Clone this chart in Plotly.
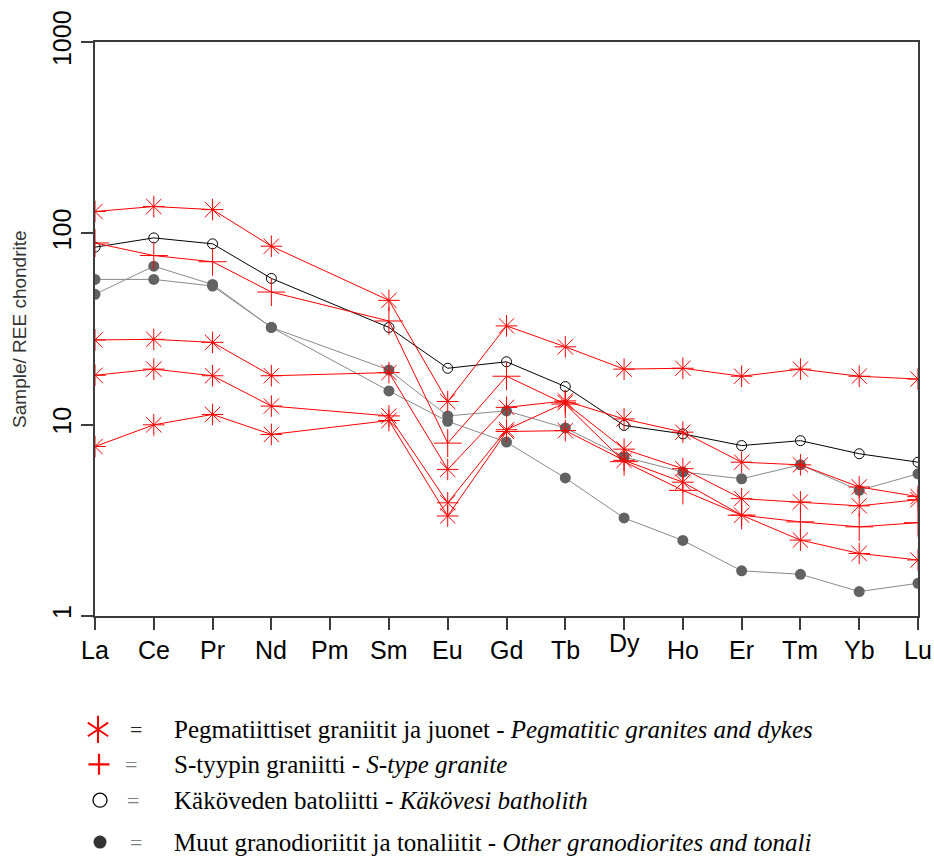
import plotly.graph_objects as go

# Chondrite-normalised REE patterns
elements = ["La", "Ce", "Pr", "Nd", "Pm", "Sm", "Eu", "Gd", "Tb", "Dy", "Ho", "Er", "Tm", "Yb", "Lu"]

# Pegmatitic granites and dykes (asterisks)
peg_1 = [130, 138, 133, 85.6, None, 44.6, 13.2, 32.8, 25.5, 19.5, 19.7, 17.9, 19.5, 17.9, 17.3]
peg_2 = [27.7, 27.9, 26.9, 18.0, None, 18.7, 5.83, 12.3, 13.3, 10.7, 9.13, 6.36, 6.16, 4.72, 4.2]
peg_3 = [18.1, 19.5, 18.0, 12.5, None, 11.1, 3.9, 9.4, 13.0, 7.44, 5.88, 4.1, 3.94, 3.76, 4.05]
peg_4 = [7.68, 9.97, 11.3, 8.88, None, 10.5, 3.33, 9.2, 9.3, 6.5, 5.0, 3.36, 2.49, 2.12, 1.96]

# S-type granite (plus signs)
s_type = [89, 76.5, 71, 49.3, None, 34.8, 8.0, 17.9, 12.8, 6.4, 4.53, 3.36, 3.1, 2.92, 3.07]

# Käkövesi batholith (open circles)
kakovesi = [84.6, 94.6, 88.1, 58.1, None, 32.2, 19.7, 21.3, 15.8, 9.9, 8.94, 7.77, 8.24, 7.04, 6.36]

# Other granodiorites and tonalites (filled circles)
grano_1 = [57.4, 57.4, 53, 32.2, None, 19.3, 11.1, 11.8, 9.6, 6.77, 5.65, 5.21, 6.16, 4.53, 5.53]
grano_2 = [48, 67.3, 54, 32.2, None, 15.0, 10.4, 8.1, 5.26, 3.25, 2.48, 1.72, 1.65, 1.34, 1.48]

y_ticks = [1, 10, 100, 1000]
y_tick_text = ["1", "10", "100", "1000"]

legend_rows = [
    ("Pegmatiittiset graniitit ja juonet - ", "Pegmatitic granites and dykes"),
    ("S-tyypin graniitti - ", "S-type granite"),
    ("Käköveden batoliitti - ", "Käkövesi batholith"),
    ("Muut granodioriitit ja tonaliitit - ", "Other granodiorites and tonali"),
]

RED = "#ff0000"
GREY_LINE = "#8a8a8a"
GREY_DOT = "#626262"
AXIS = "#3c3c3c"

fig = go.Figure()


def add_series(values, symbol, size, mcolor, lcolor, filled=False):
    marker = dict(symbol=symbol, size=size, color=mcolor,
                  line=dict(width=1 if not filled else 0, color=mcolor))
    fig.add_trace(go.Scatter(
        x=elements, y=values, mode="lines+markers", connectgaps=True,
        line=dict(color=lcolor, width=1), marker=marker,
        showlegend=False, hoverinfo="x+y",
    ))


for s in (grano_1, grano_2):
    add_series(s, "circle", 11, GREY_DOT, GREY_LINE, filled=True)
add_series(kakovesi, "circle-open", 10, "#000000", "#000000")
for s in (peg_1, peg_2, peg_3, peg_4):
    add_series(s, "asterisk-open", 18, RED, RED)
add_series(s_type, "cross-thin-open", 20, RED, RED)

# key below the diagram, drawn on hidden axes measured in pixels
key_rows_y = [732, 767, 803, 845]
key_sym_x = [98, 99, 100, 100]
key_eq_x = [135.5, 130.5, 133, 135.5]
key_eq_col = ["#222222", "#808080", "#808080", "#808080"]
# six-armed star for the pegmatite key: two opposed "y" symbols
key_styles = [
    [dict(symbol="y-up-open", size=17, color=RED, line=dict(width=2, color=RED)),
     dict(symbol="y-down-open", size=17, color=RED, line=dict(width=2, color=RED))],
    [dict(symbol="cross-thin-open", size=15, color=RED, line=dict(width=2.2, color=RED))],
    [dict(symbol="circle-open", size=14, color="#000000", line=dict(width=1.3, color="#000000"))],
    [dict(symbol="circle", size=13, color="#333333", line=dict(width=0))],
]
for xv, yv, styles in zip(key_sym_x, key_rows_y, key_styles):
    for st in styles:
        fig.add_trace(go.Scatter(x=[xv], y=[yv], mode="markers", marker=st,
                                 xaxis="x2", yaxis="y2", cliponaxis=False,
                                 showlegend=False, hoverinfo="skip"))

annotations = []
for yv, ex, ec, (plain, ital) in zip(key_rows_y, key_eq_x, key_eq_col, legend_rows):
    annotations.append(dict(x=ex, y=yv, xref="x2", yref="y2", text="=",
                            showarrow=False, xanchor="center", yanchor="middle",
                            font=dict(family="Liberation Serif", size=22, color=ec)))
    annotations.append(dict(x=172, y=yv, xref="x2", yref="y2",
                            text=plain + "<i>" + ital + "</i>",
                            showarrow=False, xanchor="left", yanchor="middle",
                            font=dict(family="Liberation Serif", size=25, color="#000000")))

# element names under the ticks
for e in elements:
    annotations.append(dict(x=e, y=0, xref="x", yref="y domain", text=e,
                            showarrow=False, xanchor="center", yanchor="middle",
                            yshift=-27 if e == "Dy" else -34,
                            font=dict(family="Liberation Sans", size=25, color="#000000")))

annotations.append(dict(x=0, y=0.5, xref="paper", yref="y domain",
                        text="Sample/ REE chondrite", textangle=-90,
                        showarrow=False, xanchor="center", yanchor="middle", xshift=-75,
                        font=dict(family="Liberation Sans", size=19, color="#333333")))

fig.update_layout(
    width=934, height=856,
    margin=dict(l=95, r=16, t=42, b=0),
    paper_bgcolor="white", plot_bgcolor="white",
    showlegend=False,
    xaxis=dict(type="category", range=[0, len(elements) - 1],
               showgrid=False, zeroline=False, showticklabels=False,
               ticks="outside", ticklen=12, tickwidth=1.5, tickcolor=AXIS,
               showline=True, linecolor=AXIS, linewidth=1.5, mirror=True),
    yaxis=dict(type="log", range=[0, 3], domain=[(856 - 618) / 814, 1],
               tickvals=y_ticks, ticktext=y_tick_text, tickangle=-90,
               tickfont=dict(family="Liberation Sans", size=25, color="#000000"),
               showgrid=False, zeroline=False,
               ticks="outside", ticklen=12, tickwidth=1.5, tickcolor=AXIS,
               showline=True, linecolor=AXIS, linewidth=1.5, mirror=True),
    xaxis2=dict(domain=[0, 1], range=[95, 918], visible=False, anchor="y2"),
    yaxis2=dict(domain=[0, 0.25], range=[856, 856 - 0.25 * 814], visible=False, anchor="x2"),
    annotations=annotations,
)

fig.write_html("out.html")
